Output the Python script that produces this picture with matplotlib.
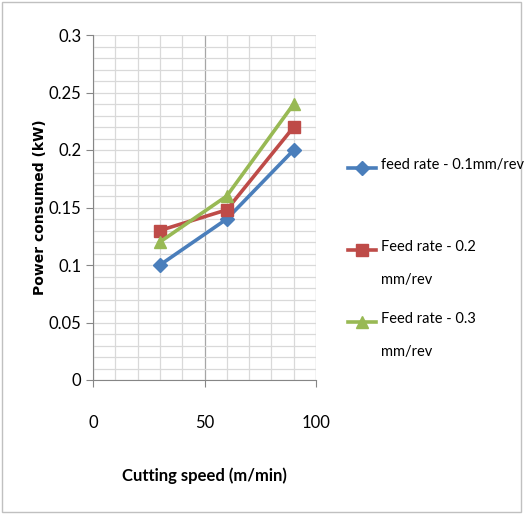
import matplotlib
matplotlib.use("Agg")
import matplotlib.pyplot as plt
from matplotlib.lines import Line2D
from matplotlib.patches import Rectangle

plt.rcParams['font.family'] = ['Lato', 'DejaVu Sans']

speed = [30, 60, 90]
feed_01 = [0.10, 0.14, 0.20]
feed_02 = [0.13, 0.148, 0.22]
feed_03 = [0.12, 0.16, 0.24]
labels = ['feed rate - 0.1mm/rev', 'Feed rate - 0.2\nmm/rev', 'Feed rate - 0.3\nmm/rev']
colors = ['#4A7EBB', '#BE4B48', '#98B954']
markers = ['D', 's', '^']
msizes = [7, 8, 9]

W, H = 526, 515
fig = plt.figure(figsize=(W/100, H/100), dpi=100)
ax = fig.add_axes([93/W, 1-380/H, (316-93)/W, (380-35)/H])

for ys, c, m, ms in zip([feed_01, feed_02, feed_03], colors, markers, msizes):
    ax.plot(speed, ys, color=c, lw=2.6, marker=m, ms=ms, zorder=3)

ax.set_xlim(0, 100)
ax.set_ylim(0, 0.3)
ax.set_xticks([0, 50, 100])
ax.set_xticks(range(0, 101, 10), minor=True)
ax.set_yticks([0, 0.05, 0.1, 0.15, 0.2, 0.25, 0.3])
ax.set_yticks([i/100 for i in range(31)], minor=True)
ax.set_yticklabels(['0', '0.05', '0.1', '0.15', '0.2', '0.25', '0.3'])
ax.grid(True, which='minor', color='#D9D9D9', lw=0.9)
ax.grid(True, which='major', axis='y', color='#D9D9D9', lw=0.9)
ax.grid(True, which='major', axis='x', color='#A6A6A6', lw=0.9)
ax.set_axisbelow(True)
for s in ['top', 'right']:
    ax.spines[s].set_visible(False)
for s in ['left', 'bottom']:
    ax.spines[s].set_color('#868686')
ax.tick_params(which='major', direction='out', length=5, color='#868686', labelsize=12)
ax.tick_params(which='minor', length=0)
ax.tick_params(axis='x', pad=20)
ax.set_xlabel('Cutting speed (m/min)', fontsize=12, fontweight='bold')
ax.set_ylabel('Power consumed (kW)', fontsize=10, fontweight='bold',
              family=['DejaVu Sans'])
ax.xaxis.label.set_va('center')
ax.yaxis.label.set_va('center')
ax.xaxis.set_label_coords(0.5, (380 - 476) / 345)
ax.yaxis.set_label_coords((40 - 93) / 223, 0.5)

# legend
ly = [168, 250, 322]
for lab, c, m, ms, y in zip(labels, colors, markers, msizes, ly):
    yf = 1 - y/H
    fig.add_artist(Line2D([348/W, 376/W], [yf, yf], color=c, lw=2.6, transform=fig.transFigure))
    fig.add_artist(Line2D([362/W], [yf], color=c, marker=m, ms=ms, transform=fig.transFigure))
    fig.text(381/W, yf + 10/H, lab, fontsize=10.5, va='top', ha='left', linespacing=2.7,
             transform=fig.transFigure)

fig.add_artist(Rectangle((2/W, 3/H), 519/W, 510/H, fill=False, ec='#C0C0C0', lw=1,
                         transform=fig.transFigure))
fig.savefig('out.png', dpi=100)
